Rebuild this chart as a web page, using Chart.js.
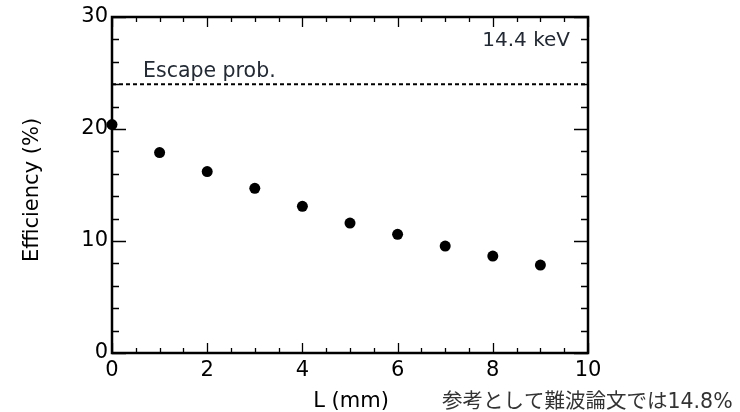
<!DOCTYPE html>
<html>
<head>
<meta charset="utf-8">
<title>Efficiency vs L</title>
<script src="https://cdn.jsdelivr.net/npm/chart.js@4.4.1/dist/chart.umd.min.js"></script>
<style>
  html, body { margin: 0; padding: 0; background: #fff; }
  canvas { display: block; }
</style>
</head>
<body>
<canvas id="eff" width="740" height="412"></canvas>
<script>
  // efficiency (%) at each length L (mm), 14.4 keV
  var lengths = [0, 1, 2, 3, 4, 5, 6, 7, 8, 9];
  var efficiency = [20.4, 17.9, 16.2, 14.7, 13.1, 11.6, 10.6, 9.55, 8.65, 7.85];
  var escapeProb = 24;
  var xRange = [0, 10];
  var yRange = [0, 30];

  var FONT = '"DejaVu Sans", "Liberation Sans", sans-serif';

  // frame + inward ticks on all four sides (ROOT style)
  var frameTicks = {
    id: 'frameTicks',
    beforeDatasetsDraw: function(chart) {
      var ctx = chart.ctx, a = chart.chartArea;
      var xs = chart.scales.x, ys = chart.scales.y;
      ctx.save();
      ctx.strokeStyle = '#000';
      ctx.lineWidth = 2.5;
      ctx.strokeRect(a.left, a.top, a.right - a.left, a.bottom - a.top);
      ctx.lineWidth = 1.3;
      ctx.beginPath();
      for (var v = xRange[0]; v <= xRange[1] + 1e-9; v += 0.5) {
        var px = Math.round(xs.getPixelForValue(v)) + 0.5;
        var len = (Math.abs(v % 2) < 1e-9) ? 10 : 5;
        ctx.moveTo(px, a.bottom); ctx.lineTo(px, a.bottom - len);
        ctx.moveTo(px, a.top); ctx.lineTo(px, a.top + len);
      }
      for (var w = yRange[0]; w <= yRange[1] + 1e-9; w += 2) {
        var py = Math.round(ys.getPixelForValue(w)) + 0.5;
        var l2 = (w % 10 === 0) ? 14 : 7;
        ctx.moveTo(a.left, py); ctx.lineTo(a.left + l2, py);
        ctx.moveTo(a.right, py); ctx.lineTo(a.right - l2, py);
      }
      ctx.stroke();
      ctx.restore();
    },
    afterDraw: function(chart) {
      var ctx = chart.ctx;
      ctx.save();
      ctx.fillStyle = '#000';
      ctx.font = '21px ' + FONT;
      ctx.textAlign = 'center';
      ctx.textBaseline = 'alphabetic';
      ctx.fillText('L (mm)', 351, 407);
      ctx.translate(38, 190);
      ctx.rotate(-Math.PI / 2);
      ctx.fillText('Efficiency (%)', 0, 0);
      ctx.restore();

      ctx.save();
      ctx.fillStyle = '#222a35';
      ctx.font = '20px ' + FONT;
      ctx.textAlign = 'right';
      ctx.fillText('14.4 keV', 570, 46);
      ctx.textAlign = 'left';
      ctx.font = '20.5px ' + FONT;
      ctx.fillText('Escape prob.', 143, 77);
      ctx.fillStyle = '#333';
      ctx.font = '20.5px "DejaVu Sans", "Noto Sans CJK JP", sans-serif';
      ctx.fillText('参考として難波論文では14.8%', 442, 408);
      ctx.restore();
    }
  };

  new Chart(document.getElementById('eff'), {
    type: 'scatter',
    data: {
      datasets: [{
        label: 'Efficiency',
        data: lengths.map(function(x, i) { return {x: x, y: efficiency[i]}; }),
        pointRadius: 5.5,
        pointHoverRadius: 5.5,
        pointBorderWidth: 0,
        backgroundColor: '#000',
        clip: false
      }, {
        label: 'Escape prob.',
        type: 'line',
        data: [{x: xRange[0], y: escapeProb}, {x: xRange[1], y: escapeProb}],
        borderColor: '#000',
        borderWidth: 2,
        borderDash: [4, 3],
        pointRadius: 0,
        fill: false
      }]
    },
    options: {
      responsive: false,
      animation: false,
      devicePixelRatio: 1,
      layout: { padding: { left: 0, top: 17, right: 152, bottom: 0 } },
      plugins: { legend: { display: false }, tooltip: { enabled: false } },
      scales: {
        x: {
          type: 'linear', min: xRange[0], max: xRange[1],
          grid: { display: false, drawTicks: false },
          border: { display: false },
          ticks: { stepSize: 2, padding: 5, color: '#000', font: { family: FONT, size: 21 } },
          afterFit: function(s) { s.height = 59; }
        },
        y: {
          type: 'linear', min: yRange[0], max: yRange[1],
          grid: { display: false, drawTicks: false },
          border: { display: false },
          ticks: { stepSize: 10, padding: 4, color: '#000', font: { family: FONT, size: 21 } },
          afterFit: function(s) { s.width = 112; }
        }
      }
    },
    plugins: [frameTicks]
  });
</script>
</body>
</html>
